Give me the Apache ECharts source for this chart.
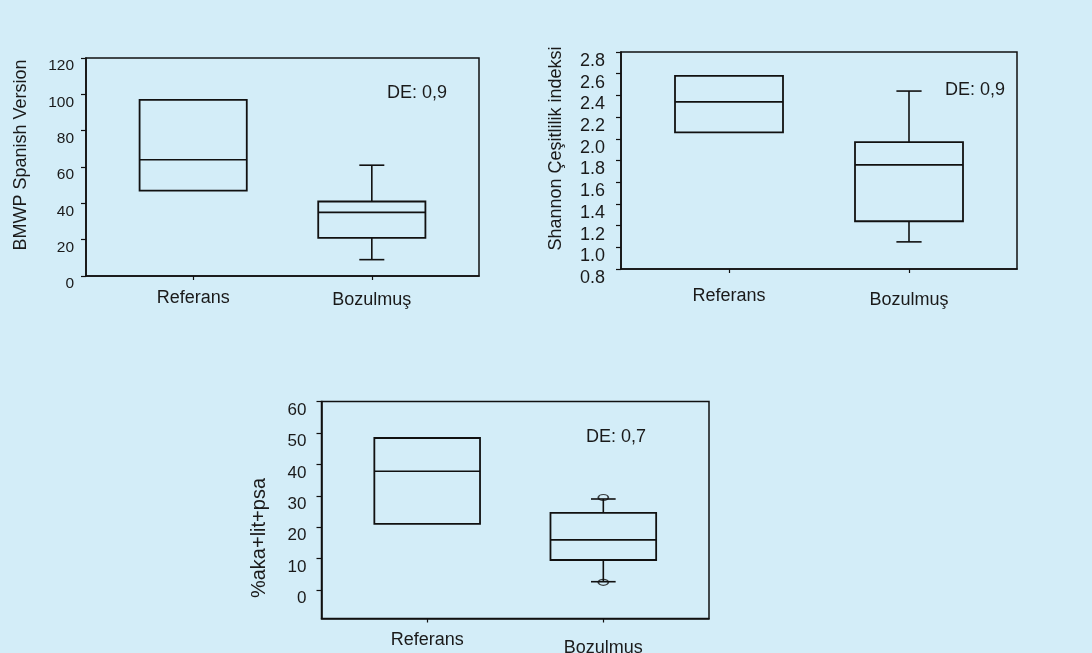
<!DOCTYPE html>
<html>
<head>
<meta charset="utf-8">
<script src="https://cdn.jsdelivr.net/npm/echarts@6/dist/echarts.min.js"></script>
<style>
html,body{margin:0;padding:0;background:#d3edf8;}
#c{width:1092px;height:653px;}
</style>
</head>
<body>
<div id="c"></div>
<script>
// ---- data ----
const categories = ['Referans', 'Bozulmuş'];
// [min, Q1, median, Q3, max]
const bmwpBoxes = [[47, 47, 64, 97, 97], [9, 21, 35, 41, 61]];
const shannonBoxes = [[2.06, 2.06, 2.34, 2.58, 2.58], [1.05, 1.24, 1.76, 1.97, 2.44]];
const akaBoxes = [[21.1, 21.1, 37.8, 48.4, 48.4], [2.7, 9.6, 16, 24.6, 29.0]];
// outliers: [category index, value]
const akaOutliers = [[1, 29.5], [1, 2.5]];
const bmwpTicks = [0, 20, 40, 60, 80, 100, 120];
const shannonTicks = [0.8, 1.0, 1.2, 1.4, 1.6, 1.8, 2.0, 2.2, 2.4, 2.6, 2.8];
const akaTicks = [0, 10, 20, 30, 40, 50, 60];
const yNames = ['BMWP Spanish Version', 'Shannon Çeşitlilik indeksi', '%aka+lit+psa'];
const deTexts = ['DE: 0,9', 'DE: 0,9', 'DE: 0,7'];

const FONT = "'Liberation Sans', Arial, sans-serif";
const INK = '#111';
const TXT = '#1a1a1a';

const chart = echarts.init(document.getElementById('c'), null, {renderer: 'canvas'});

function boxData(boxes) {
  return boxes.map((b, i) => [i].concat(b));
}

function renderBox(params, api) {
  const x = api.value(0);
  const mn = api.value(1), q1 = api.value(2), md = api.value(3), q3 = api.value(4), mx = api.value(5);
  const hw = 0.3, cw = 0.07;
  const pL = api.coord([x - hw, q3]);
  const pR = api.coord([x + hw, q1]);
  const pMdL = api.coord([x - hw, md]);
  const pMdR = api.coord([x + hw, md]);
  const style = {stroke: INK, lineWidth: 1.6, fill: null};
  const children = [];
  if (mx > q3) {
    const a = api.coord([x, q3]), b = api.coord([x, mx]);
    const cl = api.coord([x - cw, mx]), cr = api.coord([x + cw, mx]);
    children.push({type: 'line', shape: {x1: a[0], y1: a[1], x2: b[0], y2: b[1]}, style: style});
    children.push({type: 'line', shape: {x1: cl[0], y1: cl[1], x2: cr[0], y2: cr[1]}, style: style});
  }
  if (mn < q1) {
    const a = api.coord([x, q1]), b = api.coord([x, mn]);
    const cl = api.coord([x - cw, mn]), cr = api.coord([x + cw, mn]);
    children.push({type: 'line', shape: {x1: a[0], y1: a[1], x2: b[0], y2: b[1]}, style: style});
    children.push({type: 'line', shape: {x1: cl[0], y1: cl[1], x2: cr[0], y2: cr[1]}, style: style});
  }
  children.push({type: 'rect', shape: {x: pL[0], y: pL[1], width: pR[0] - pL[0], height: pR[1] - pL[1]}, style: {stroke: INK, lineWidth: 1.8, fill: null}});
  children.push({type: 'line', shape: {x1: pMdL[0], y1: pMdL[1], x2: pMdR[0], y2: pMdR[1]}, style: style});
  return {type: 'group', children: children};
}

const grids = [
  {left: 86, top: 58, width: 393, height: 218},
  {left: 621, top: 52, width: 396, height: 217},
  {left: 321.5, top: 401.5, width: 387.5, height: 217}
];
grids.forEach(g => {
  g.show = true; g.borderColor = INK; g.borderWidth = 1.5; g.backgroundColor = 'transparent';
  g.containLabel = false; g.outerBoundsMode = 'none';
});

const xLabelMargins = [13, 18, 12.5];
const xBozPad = [1, 2, 4];
const xAxes = [0, 1, 2].map(i => ({
  gridIndex: i, type: 'value', min: -0.6, max: 1.6,
  splitLine: {show: false},
  axisLine: {show: true, onZero: false, lineStyle: {color: INK, width: 1.6}},
  axisTick: {show: true, customValues: [0, 1], length: 4, lineStyle: {color: INK, width: 1.2}},
  axisLabel: {
    customValues: [0, 1], margin: xLabelMargins[i], color: TXT, fontFamily: FONT, fontSize: 18,
    formatter: v => (Math.round(v) === 1 ? '{b|' + categories[1] + '}' : categories[0]),
    rich: {b: {fontFamily: FONT, fontSize: 18, color: TXT, padding: [xBozPad[i] * 2, 0, 0, 0]}}
  }
}));

const yCommon = (i, ticks, min, max, fs, margin, fmt) => ({
  gridIndex: i, type: 'value', min: min, max: max,
  splitLine: {show: false},
  axisLine: {show: true, onZero: false, lineStyle: {color: INK, width: 1.6}},
  axisTick: {show: true, customValues: ticks, length: 5, lineStyle: {color: INK, width: 1.2}},
  axisLabel: {customValues: ticks, margin: margin, color: TXT, fontFamily: FONT, fontSize: fs, verticalAlign: 'top', formatter: fmt},
  name: yNames[i], nameLocation: 'middle'
});

const y0 = yCommon(0, bmwpTicks, 0, 120, 15.5, 12, v => String(Math.round(v)));
y0.nameGap = 56; y0.nameTextStyle = {fontFamily: FONT, fontSize: 18, color: TXT, padding: [0, 0, 0, 24]};
const y1 = yCommon(1, shannonTicks, 0.8, 2.8, 18, 16, v => v.toFixed(1));
y1.nameGap = 56; y1.nameTextStyle = {fontFamily: FONT, fontSize: 18, color: TXT, padding: [0, 0, 0, 24]};
const y2 = yCommon(2, akaTicks, -9, 60, 17, 15, v => String(Math.round(v)));
y2.nameGap = 52; y2.nameTextStyle = {fontFamily: FONT, fontSize: 20, color: TXT, padding: [0, 56, 0, 0]};

const deGraphics = [
  {x: 417, y: 93}, {x: 975, y: 90}, {x: 616, y: 437}
].map((p, i) => ({
  type: 'text', x: p.x, y: p.y,
  style: {text: deTexts[i], font: '18px ' + FONT, fill: TXT, align: 'center', verticalAlign: 'middle'}
}));

const option = {
  backgroundColor: '#d3edf8',
  animation: false,
  grid: grids,
  xAxis: xAxes,
  yAxis: [y0, y1, y2],
  graphic: deGraphics,
  series: [
    {type: 'custom', xAxisIndex: 0, yAxisIndex: 0, data: boxData(bmwpBoxes), renderItem: renderBox, encode: {x: 0, y: [1, 2, 3, 4, 5]}},
    {type: 'custom', xAxisIndex: 1, yAxisIndex: 1, data: boxData(shannonBoxes), renderItem: renderBox, encode: {x: 0, y: [1, 2, 3, 4, 5]}},
    {type: 'custom', xAxisIndex: 2, yAxisIndex: 2, data: boxData(akaBoxes), renderItem: renderBox, encode: {x: 0, y: [1, 2, 3, 4, 5]}},
    {type: 'scatter', xAxisIndex: 2, yAxisIndex: 2, data: akaOutliers, symbol: 'circle', symbolSize: [10, 6],
     itemStyle: {color: 'rgba(0,0,0,0)', borderColor: INK, borderWidth: 1.4}, z: 5}
  ]
};
chart.setOption(option);
</script>
</body>
</html>
